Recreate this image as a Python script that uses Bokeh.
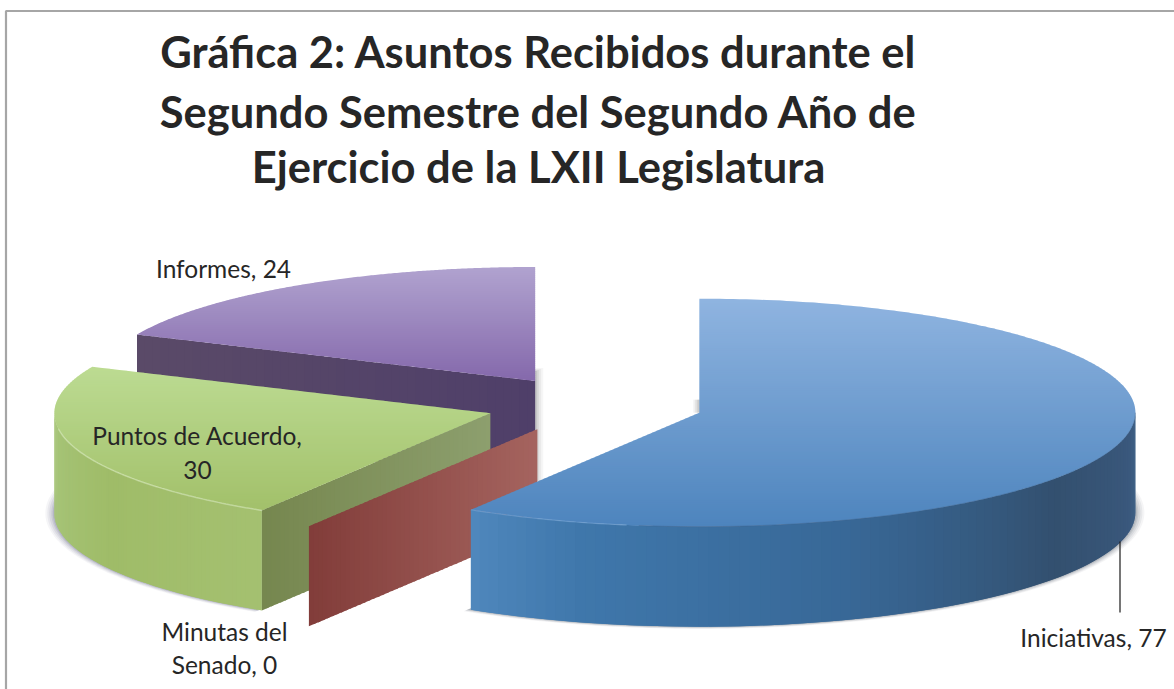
import numpy as np
from bokeh.plotting import figure
from bokeh.models import Range1d
from bokeh.core.properties import value
from bokeh.embed import file_html
from bokeh.resources import INLINE

# ---- data ----
categories = ["Iniciativas", "Minutas del Senado", "Puntos de Acuerdo", "Informes"]
values = [77, 0, 30, 24]
title_lines = ["Gráfica 2: Asuntos Recibidos durante el",
               "Segundo Semestre del Segundo Año de",
               "Ejercicio de la LXII Legislatura"]

# ---- layout / style ----
W, H = 1174, 689
CX, CY, RX, RY, DEPTH, EXPLODE = 594.0, 404.4, 436.0, 114.0, 100.0, 0.25
top_grad = [("#8fb4e0", "#4d84bd"), ("#b06a66", "#b06a66"), ("#bcdb92", "#a2c06a"), ("#b0a2cf", "#8468ab")]
side_stops = [
    [(90, "#3f6288"), (100, "#3a587c"), (125, "#33506f"), (160, "#386897"), (195, "#3f77ab"), (211.6, "#5088bd")],
    None,
    [(211.6, "#a4c070"), (240, "#9fbc68"), (270, "#a8c67c")],
    None,
]
radial_stops = [None, ("#823d3a", "#a5645f"), ("#76874f", "#8d9f6e"), ("#5a4a68", "#4f3f69")]
FONT = value("Lato")

fig = figure(width=W, height=H, output_backend="svg", toolbar_location=None,
             x_range=Range1d(0, W), y_range=Range1d(H, 0), min_border=0,
             outline_line_color=None)
fig.axis.visible = False
fig.grid.visible = False


def hex2rgb(c):
    return np.array([int(c[i:i + 2], 16) for i in (1, 3, 5)], float)


def mix(a, b, t):
    r = hex2rgb(a) * (1 - t) + hex2rgb(b) * t
    return "#%02x%02x%02x" % tuple(int(round(v)) for v in r)


def grad(stops, x):
    for (a, ca), (b, cb) in zip(stops, stops[1:]):
        if x <= b:
            return mix(ca, cb, max(0, (x - a) / (b - a)))
    return stops[-1][1]


def pt(cx, cy, deg):
    t = np.radians(deg)
    return cx + RX * np.sin(t), cy - RY * np.cos(t)


def clip(poly, y0, y1):
    def half(P, inside, cross):
        out = []
        for i in range(len(P)):
            a, b = P[i], P[(i + 1) % len(P)]
            if inside(a):
                out.append(a)
            if inside(a) != inside(b):
                out.append(cross(a, b))
        return out

    def cr(v):
        return lambda a, b: (a[0] + (b[0] - a[0]) * (v - a[1]) / (b[1] - a[1]), v)

    P = half(poly, lambda p: p[1] >= y0, cr(y0))
    if not P:
        return P
    return half(P, lambda p: p[1] <= y1, cr(y1))


total = sum(values)
angles = np.cumsum([0] + [v / total * 360 for v in values])
slices = []
for i, v in enumerate(values):
    a0, a1 = angles[i], angles[i + 1]
    mid = (a0 + a1) / 2
    cx = CX + EXPLODE * RX * np.sin(np.radians(mid))
    cy = CY - EXPLODE * RY * np.cos(np.radians(mid))
    slices.append((a0, a1, cx, cy))


def shadow(i, deg0, deg1, color):
    _, _, cx, cy = slices[i]
    th = np.radians(np.linspace(deg0, deg1, 120))
    for g, alpha in [(9, .06), (7, .08), (5, .10), (3, .13), (1.5, .16)]:
        xs = cx + (RX + g) * np.sin(th)
        ys = cy + DEPTH - (RY + g * .25) * np.cos(th)
        fig.patch(list(xs) + [cx], list(ys) + [cy + DEPTH], fill_color=color, fill_alpha=alpha, line_color=None)


def edge_shadow(x, y0, y1):
    for g, alpha in [(8, .05), (6, .07), (4, .10), (2, .14)]:
        fig.quad(left=[x - 0.5], right=[x + g], top=[y0 + (8 - g) * .5], bottom=[y1],
                 fill_color="#505050", fill_alpha=alpha, line_color=None)


def edge_shadow_left(x, y0, y1):
    for g, alpha in [(6, .08), (4, .10), (2, .14)]:
        fig.quad(left=[x - g], right=[x + 0.5], top=[y0], bottom=[y1],
                 fill_color="#505050", fill_alpha=alpha, line_color=None)


def draw_top(i):
    a0, a1, cx, cy = slices[i]
    xs, ys = pt(cx, cy, np.linspace(a0, a1, 240))
    poly = [(cx, cy)] + list(zip(xs, ys))
    ytop, ybot = min(p[1] for p in poly), max(p[1] for p in poly)
    if i == 0:
        ybot = cy + RY
    c0, c1 = top_grad[i]
    band = 2.0
    px, py, cols = [], [], []
    for y in np.arange(ytop, ybot, band):
        part = clip(poly, y, y + band + .6)
        if len(part) < 3:
            continue
        px.append([p[0] for p in part])
        py.append([p[1] for p in part])
        cols.append(mix(c0, c1, (y - ytop) / (ybot - ytop)))
    fig.patches(px, py, fill_color=cols, line_color=None)


def draw_radial(i, deg):
    a0, a1, cx, cy = slices[i]
    ex, ey = pt(cx, cy, deg)
    c0, c1 = radial_stops[i]
    n = 50
    f = np.linspace(0, 1, n + 1)
    px, py, cols = [], [], []
    for k in range(n):
        x0 = ex + (cx - ex) * f[k]
        y0 = ey + (cy - ey) * f[k]
        x1 = ex + (cx - ex) * min(1, f[k + 1] + .01)
        y1 = ey + (cy - ey) * min(1, f[k + 1] + .01)
        px.append([x0, x1, x1, x0])
        py.append([y0, y1, y1 + DEPTH, y0 + DEPTH])
        cols.append(mix(c0, c1, f[k]))
    fig.patches(px, py, fill_color=cols, line_color=None)


def draw_wall(i, deg0, deg1):
    a0, a1, cx, cy = slices[i]
    th = np.linspace(deg0, deg1, 90)
    xs, ys = pt(cx, cy, th)
    px, py, cols = [], [], []
    for k in range(len(th) - 1):
        j = min(k + 2, len(th) - 1)
        px.append([xs[k], xs[j], xs[j], xs[k]])
        py.append([ys[k], ys[j], ys[j] + DEPTH, ys[k] + DEPTH])
        cols.append(grad(side_stops[i], th[k]))
    fig.patches(px, py, fill_color=cols, line_color=None)


# soft shadows beneath everything
edge_shadow(slices[3][2], slices[3][3] - 13, slices[1][3] + 52)
edge_shadow_left(slices[0][2], slices[0][3] - 13, slices[0][3])
shadow(2, 212, 285, "#54597a")
shadow(0, 75, 212, "#505a68")

# Informes
draw_radial(3, angles[3])
draw_top(3)
# Puntos de Acuerdo
draw_radial(2, angles[2])
draw_wall(2, angles[2], 270)
draw_top(2)
xs, ys = pt(slices[2][2], slices[2][3], np.linspace(angles[2], 262, 80))
fig.line(xs, ys, line_color="#d6e8ba", line_width=1.5, line_alpha=.6)
# Minutas del Senado (zero-sized slice: only its plane shows)
draw_radial(1, angles[1])
# Iniciativas
draw_wall(0, 90, angles[1])
draw_top(0)
xs, ys = pt(slices[0][2], slices[0][3], np.linspace(angles[1] - 22, angles[1], 30))
fig.line(xs, ys, line_color="#86b0dc", line_width=1.2, line_alpha=.45)
xs, ys = pt(slices[0][2], slices[0][3], np.linspace(90, 188, 90))
fig.line(xs, ys, line_color="#3d5f87", line_width=1, line_alpha=.4)

# frame
fig.line([5.5, 5.5, W], [H, 10.5, 10.5], line_color="#a6a6a6", line_width=2.2)

# leader
fig.line([1119.5, 1119.5], [541, 612], line_color="#1a1a1a", line_width=1.2)

# title
for k, (line, yy) in enumerate(zip(title_lines, [50, 110, 165])):
    fig.text([538], [yy], text=[line], text_font=FONT, text_font_style="bold",
             text_font_size="43.5px", text_color="#262626", text_align="center", text_baseline="middle")

# labels
label_items = [
    (223, 268, [f"{categories[3]}, {values[3]}"]),
    (197, 435, [f"{categories[2]},"]),
    (197, 469, [f"{values[2]}"]),
    (224, 631, ["Minutas del"]),
    (224, 664, [f"Senado, {values[1]}"]),
    (1093, 637, [f"{categories[0]}, {values[0]}"]),
]
for x, y, t in label_items:
    fig.text([x], [y], text=t, text_font=FONT, text_font_size="24.5px", text_color="#262626",
             text_align="center", text_baseline="middle")

open("out.html", "w").write(file_html(fig, INLINE))
